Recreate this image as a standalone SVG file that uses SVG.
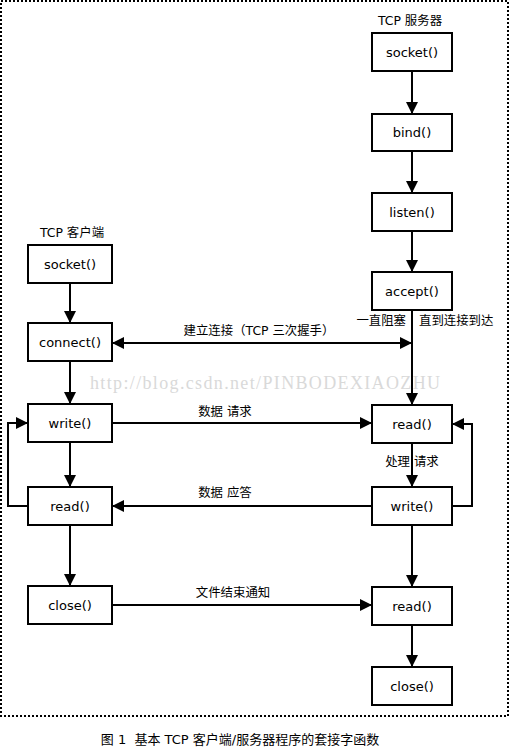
<svg xmlns="http://www.w3.org/2000/svg" width="510" height="747" viewBox="0 0 510 747">
<style>
.box{fill:#fff;stroke:#000;stroke-width:2}
.t{font-family:"DejaVu Sans","Noto Sans CJK SC",sans-serif;font-size:13px;fill:#000;text-anchor:middle}
.l{font-family:"DejaVu Sans","Noto Sans CJK SC",sans-serif;font-size:12.4px;fill:#000}
.c{fill:none;stroke:#000;stroke-width:2}
</style>
<defs>
<marker id="a" viewBox="0 0 12 12" refX="12" refY="6" markerWidth="12" markerHeight="12" markerUnits="userSpaceOnUse" orient="auto-start-reverse"><path d="M0,0 L12,6 L0,12 z" fill="#000"/></marker>
</defs>
<rect x="0" y="0" width="510" height="747" fill="#fff"/>
<rect x="1" y="1" width="507" height="715" fill="none" stroke="#000" stroke-width="2" stroke-dasharray="2 2"/>
<text x="90" y="389" font-family="'Liberation Serif',serif" font-size="18" fill="#d9d9d9" textLength="350" lengthAdjust="spacing">http://blog.csdn.net/PINBODEXIAOZHU</text>
<g id="connectors">
<path class="c" d="M412,71 V114" marker-end="url(#a)"/>
<path class="c" d="M412,151 V193" marker-end="url(#a)"/>
<path class="c" d="M412,231 V272" marker-end="url(#a)"/>
<path class="c" d="M412,310 V405" marker-end="url(#a)"/>
<path class="c" d="M412,443 V487" marker-end="url(#a)"/>
<path class="c" d="M412,525 V587" marker-end="url(#a)"/>
<path class="c" d="M412,625 V667" marker-end="url(#a)"/>
<path class="c" d="M70,283 V323" marker-end="url(#a)"/>
<path class="c" d="M70,361 V404" marker-end="url(#a)"/>
<path class="c" d="M70,442 V487" marker-end="url(#a)"/>
<path class="c" d="M70,525 V586" marker-end="url(#a)"/>
<path class="c" d="M112,343 H412" marker-start="url(#a)" marker-end="url(#a)"/>
<path class="c" d="M112,423 H372" marker-end="url(#a)"/>
<path class="c" d="M372,506 H112" marker-end="url(#a)"/>
<path class="c" d="M28,506 H8 V423 H28" marker-end="url(#a)"/>
<path class="c" d="M452,506 H472 V424 H452" marker-end="url(#a)"/>
<path class="c" d="M112,605 H372" marker-end="url(#a)"/>
</g>
<g id="labels">
<text class="l" x="410" y="25" text-anchor="middle">TCP 服务器</text>
<text class="l" x="72" y="237" text-anchor="middle">TCP 客户端</text>
<text class="l" x="406" y="325" text-anchor="end">一直阻塞</text>
<text class="l" x="419" y="325">直到连接到达</text>
<text class="l" x="259" y="335" text-anchor="middle">建立连接（TCP 三次握手）</text>
<text class="l" x="225" y="416" text-anchor="middle">数据 请求</text>
<text class="l" x="412" y="466" text-anchor="middle">处理 请求</text>
<text class="l" x="225" y="497" text-anchor="middle">数据 应答</text>
<text class="l" x="233" y="597" text-anchor="middle">文件结束通知</text>
<text class="l" x="240" y="744" text-anchor="middle" style="white-space:pre;font-size:13px" xml:space="preserve">图 1  基本 TCP 客户端/服务器程序的套接字函数</text>
</g>
<g id="s-socket"><rect class="box" x="372" y="33" width="80" height="38"/><text class="t" x="412" y="56.5">socket()</text></g>
<g id="s-bind"><rect class="box" x="372" y="114" width="80" height="37"/><text class="t" x="412" y="137">bind()</text></g>
<g id="s-listen"><rect class="box" x="372" y="193" width="80" height="38"/><text class="t" x="412" y="216.5">listen()</text></g>
<g id="s-accept"><rect class="box" x="372" y="272" width="80" height="38"/><text class="t" x="412" y="295.5">accept()</text></g>
<g id="s-read"><rect class="box" x="372" y="405" width="80" height="38"/><text class="t" x="412" y="428.5">read()</text></g>
<g id="s-write"><rect class="box" x="372" y="487" width="80" height="38"/><text class="t" x="412" y="510.5">write()</text></g>
<g id="s-read2"><rect class="box" x="372" y="587" width="80" height="38"/><text class="t" x="412" y="610.5">read()</text></g>
<g id="s-close"><rect class="box" x="372" y="667" width="80" height="38"/><text class="t" x="412" y="690.5">close()</text></g>
<g id="c-socket"><rect class="box" x="28" y="245" width="84" height="38"/><text class="t" x="70" y="268.5">socket()</text></g>
<g id="c-connect"><rect class="box" x="28" y="323" width="84" height="38"/><text class="t" x="70" y="346.5">connect()</text></g>
<g id="c-write"><rect class="box" x="28" y="404" width="84" height="38"/><text class="t" x="70" y="427.5">write()</text></g>
<g id="c-read"><rect class="box" x="28" y="487" width="84" height="38"/><text class="t" x="70" y="510.5">read()</text></g>
<g id="c-close"><rect class="box" x="28" y="586" width="84" height="38"/><text class="t" x="70" y="609.5">close()</text></g>
</svg>
